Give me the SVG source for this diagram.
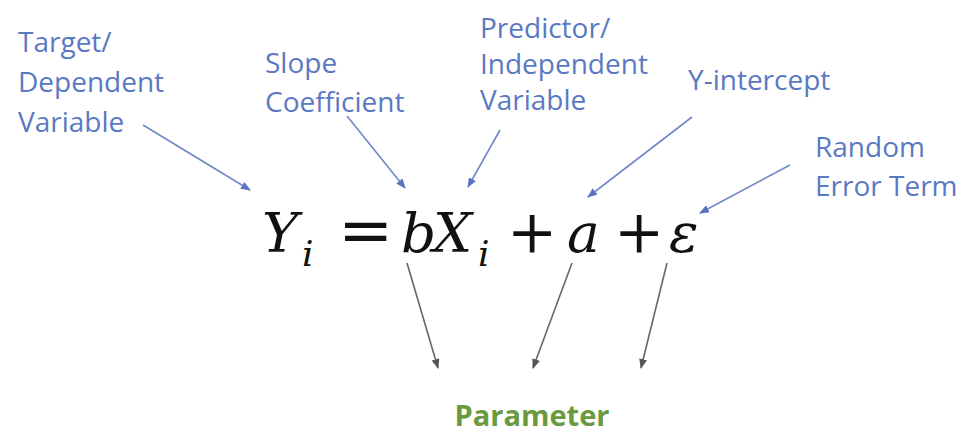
<svg xmlns="http://www.w3.org/2000/svg" width="972" height="439" viewBox="0 0 972 439">
<style>
.lbl{font-family:"Open Sans","Noto Sans",sans-serif;font-size:28px;fill:#5a79c2}
.eq{font-family:"DejaVu Serif","Liberation Serif",serif;font-style:italic;fill:#111}
.op{font-family:"DejaVu Serif","Liberation Serif",serif;fill:#111}
.ba{stroke:#7088c8;stroke-width:1.6;fill:none;marker-end:url(#hb)}
.ga{stroke:#666;stroke-width:1.6;fill:none;marker-end:url(#hg)}
.par{font-family:"Open Sans","Noto Sans",sans-serif;font-size:29px;font-weight:bold;fill:#6a9a40}
</style>
<defs>
<marker id="hb" markerWidth="10" markerHeight="8" refX="9" refY="4" orient="auto" markerUnits="userSpaceOnUse"><path d="M0,0 L10,4 L0,8 Z" fill="#5a72c0"/></marker>
<marker id="hg" markerWidth="10" markerHeight="8" refX="9" refY="4" orient="auto" markerUnits="userSpaceOnUse"><path d="M0,0 L10,4 L0,8 Z" fill="#555"/></marker>
</defs>
<rect width="972" height="439" fill="#fff"/>
<g id="target"><text class="lbl" x="18" y="52">Target/</text><text class="lbl" x="18" y="92">Dependent</text><text class="lbl" x="18" y="132">Variable</text></g>
<g id="slope"><text class="lbl" x="265" y="73">Slope</text><text class="lbl" x="265" y="112">Coefficient</text></g>
<g id="predictor"><text class="lbl" x="480" y="38">Predictor/</text><text class="lbl" x="480" y="74">Independent</text><text class="lbl" x="480" y="110">Variable</text></g>
<g id="intercept"><text class="lbl" x="688" y="90">Y-intercept</text></g>
<g id="error"><text class="lbl" x="815" y="157">Random</text><text class="lbl" x="815" y="196">Error Term</text></g>
<g id="equation">
<text class="eq" x="262" y="252" font-size="55">Y</text>
<text class="eq" x="302" y="266" font-size="36">i</text>
<text class="op" x="338" y="252" font-size="66">=</text>
<text class="eq" x="401" y="252" font-size="55">b</text>
<text class="eq" x="433" y="252" font-size="55">X</text>
<text class="eq" x="478" y="266" font-size="36">i</text>
<text class="op" x="507" y="252" font-size="60">+</text>
<text class="eq" x="567" y="252" font-size="55">a</text>
<text class="op" x="614" y="252" font-size="60">+</text>
<text class="eq" x="669" y="252" font-size="55">ε</text>
</g>
<g id="parameter"><text class="par" x="532" y="426" text-anchor="middle">Parameter</text></g>
<g id="connectors">
<line class="ba" x1="143" y1="125" x2="250" y2="190"/>
<line class="ba" x1="347" y1="116" x2="405" y2="188"/>
<line class="ba" x1="500" y1="130" x2="468" y2="187"/>
<line class="ba" x1="692" y1="117" x2="588" y2="197"/>
<line class="ba" x1="790" y1="165" x2="700" y2="213"/>
<line class="ga" x1="407" y1="263" x2="438" y2="368"/>
<line class="ga" x1="572" y1="263" x2="533" y2="368"/>
<line class="ga" x1="667" y1="263" x2="641" y2="368"/>
</g>
</svg>
